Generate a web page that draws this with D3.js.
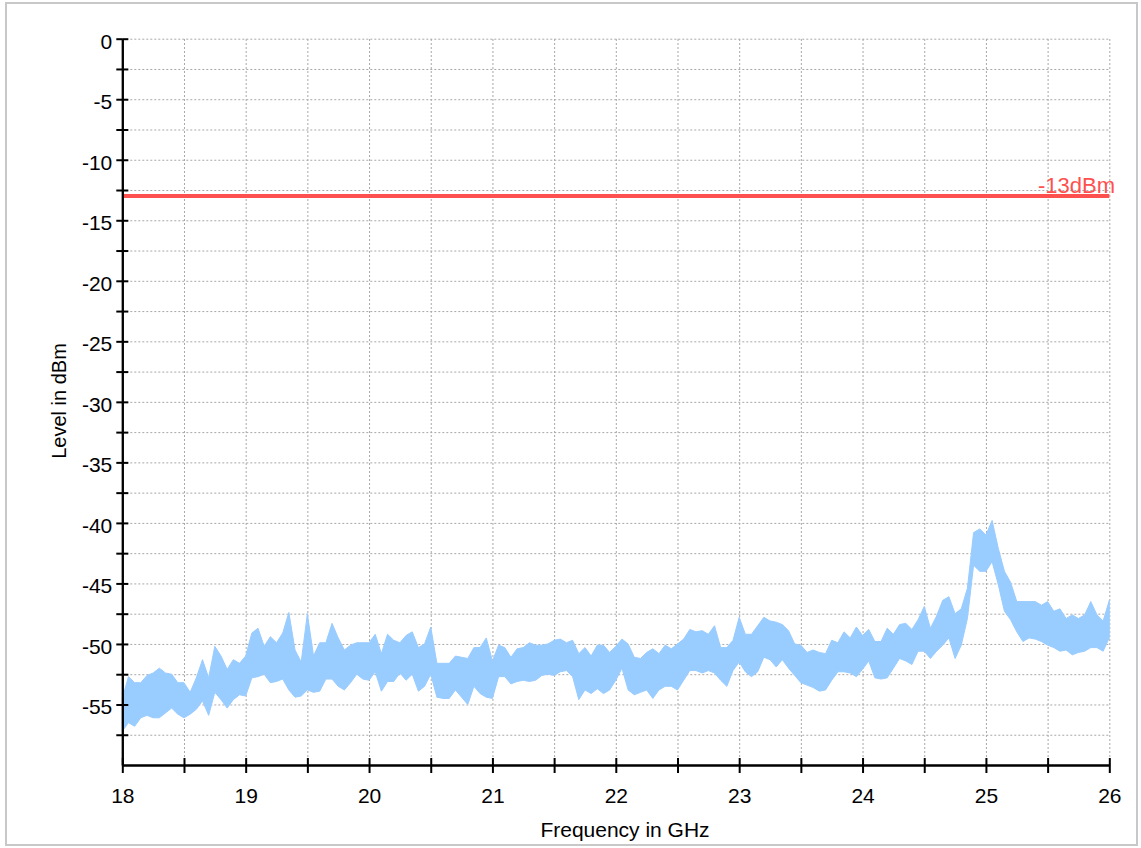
<!DOCTYPE html>
<html>
<head>
<meta charset="utf-8">
<script src="https://cdn.jsdelivr.net/npm/d3@7"></script>
<style>
    body { margin: 0; background: #fff; }
    svg { display: block; }
    text { font-family: "Liberation Sans", Arial, sans-serif; }
</style>
</head>
<body>
<svg width="1141" height="848"></svg>
<script>
"use strict";

// Sample frequencies in GHz (one every 0.05 GHz)
var freqs = [
    18.00, 18.05, 18.10, 18.15, 18.20, 18.25, 18.30, 18.35, 18.40, 18.45, 18.50, 18.55, 18.60, 18.65, 18.70, 18.75, 18.80, 18.85, 18.90, 18.95,
    19.00, 19.05, 19.10, 19.15, 19.20, 19.25, 19.30, 19.35, 19.40, 19.45, 19.50, 19.55, 19.60, 19.65, 19.70, 19.75, 19.80, 19.85, 19.90, 19.95,
    20.00, 20.05, 20.10, 20.15, 20.20, 20.25, 20.30, 20.35, 20.40, 20.45, 20.50, 20.55, 20.60, 20.65, 20.70, 20.75, 20.80, 20.85, 20.90, 20.95,
    21.00, 21.05, 21.10, 21.15, 21.20, 21.25, 21.30, 21.35, 21.40, 21.45, 21.50, 21.55, 21.60, 21.65, 21.70, 21.75, 21.80, 21.85, 21.90, 21.95,
    22.00, 22.05, 22.10, 22.15, 22.20, 22.25, 22.30, 22.35, 22.40, 22.45, 22.50, 22.55, 22.60, 22.65, 22.70, 22.75, 22.80, 22.85, 22.90, 22.95,
    23.00, 23.05, 23.10, 23.15, 23.20, 23.25, 23.30, 23.35, 23.40, 23.45, 23.50, 23.55, 23.60, 23.65, 23.70, 23.75, 23.80, 23.85, 23.90, 23.95,
    24.00, 24.05, 24.10, 24.15, 24.20, 24.25, 24.30, 24.35, 24.40, 24.45, 24.50, 24.55, 24.60, 24.65, 24.70, 24.75, 24.80, 24.85, 24.90, 24.95,
    25.00, 25.05, 25.10, 25.15, 25.20, 25.25, 25.30, 25.35, 25.40, 25.45, 25.50, 25.55, 25.60, 25.65, 25.70, 25.75, 25.80, 25.85, 25.90, 25.95,
    26.00
];

// Upper edge of the noise trace in dBm
var levelHigh = [
    -54.5, -52.7, -53.2, -53.2, -52.6, -52.4, -52.0, -52.4, -52.5, -53.2, -53.2, -54.0, -52.8, -51.3, -52.8, -50.2, -51.0, -52.1, -51.3, -51.6,
    -51.0, -49.1, -48.7, -50.2, -49.4, -49.9, -49.1, -47.4, -50.5, -51.5, -47.5, -51.0, -49.9, -49.9, -48.3, -49.5, -50.5, -50.1, -49.9, -49.9,
    -49.9, -49.2, -50.8, -49.2, -49.7, -49.9, -49.3, -49.0, -50.3, -50.0, -48.6, -51.6, -51.6, -51.6, -51.0, -51.1, -51.2, -50.3, -50.3, -49.5,
    -51.4, -50.1, -50.3, -51.1, -50.4, -50.3, -49.9, -50.1, -50.1, -50.0, -49.7, -49.6, -49.9, -49.7, -50.8, -50.3, -51.0, -50.1, -50.1, -50.7,
    -50.2, -49.6, -50.0, -51.1, -51.2, -50.7, -50.4, -50.8, -50.1, -50.4, -50.0, -49.6, -48.8, -49.0, -48.9, -49.2, -48.5, -50.3, -50.3, -49.7,
    -47.8, -49.2, -49.2, -48.5, -47.8, -48.1, -48.2, -48.4, -48.9, -50.0, -50.1, -50.7, -50.5, -50.7, -50.8, -49.7, -49.9, -49.0, -49.5, -48.6,
    -49.3, -48.8, -49.8, -49.8, -48.7, -49.2, -48.4, -48.3, -48.8, -48.0, -46.9, -48.7, -47.7, -46.4, -46.1, -47.5, -47.1, -45.4, -40.8, -40.5,
    -41.0, -39.8, -42.1, -44.0, -44.9, -46.5, -46.5, -46.5, -46.5, -46.8, -46.5, -47.3, -47.1, -47.9, -47.6, -47.9, -47.6, -46.5, -47.6, -48.1,
    -46.4
];

// Lower edge of the noise trace in dBm
var levelLow = [
    -57.2, -56.5, -56.8, -56.1, -55.9, -56.1, -56.1, -55.7, -55.3, -55.8, -56.1, -55.8, -55.4, -54.7, -55.9, -54.0, -54.6, -55.3, -54.6, -54.2,
    -54.3, -52.8, -52.7, -52.5, -53.2, -53.1, -52.9, -53.8, -54.4, -54.3, -53.8, -54.0, -53.9, -52.9, -52.9, -53.5, -53.8, -53.2, -52.5, -52.9,
    -53.0, -52.3, -53.9, -53.1, -53.1, -52.4, -53.0, -52.5, -53.9, -53.5, -52.5, -54.4, -54.5, -54.5, -53.8, -54.4, -55.0, -53.5, -54.1, -54.4,
    -54.5, -52.7, -52.7, -53.3, -53.1, -53.0, -53.1, -53.0, -52.6, -52.5, -52.6, -52.3, -52.2, -52.7, -54.6, -53.8, -54.1, -53.7, -54.1, -53.8,
    -53.0, -52.0, -53.8, -54.2, -54.0, -53.8, -54.5, -53.8, -53.5, -53.5, -53.8, -53.0, -52.2, -52.2, -52.4, -52.2, -52.4, -53.0, -53.5, -52.2,
    -51.5, -52.3, -52.7, -52.3, -51.1, -51.3, -51.9, -51.3, -52.0, -52.6, -53.2, -53.4, -53.6, -53.9, -53.8, -53.0, -52.3, -52.3, -52.4, -52.7,
    -52.1, -51.4, -52.8, -52.9, -52.8, -52.0, -51.2, -51.4, -51.7, -50.6, -50.6, -51.2, -50.6, -50.1, -49.5, -51.2, -50.1, -47.9, -43.5, -44.0,
    -44.0, -43.2, -45.1, -47.3, -48.0, -49.0, -49.8, -49.5, -49.6, -49.8, -50.1, -50.3, -50.6, -50.5, -50.9, -50.7, -50.6, -50.3, -50.3, -50.6,
    -49.5
];

// Limit line
var limitLevel = -13;
var limitLabel = "-13dBm";

// Axis ticks
var freqTicks = [18, 18.5, 19, 19.5, 20, 20.5, 21, 21.5, 22, 22.5, 23, 23.5, 24, 24.5, 25, 25.5, 26];
var levelTicks = [0, -2.5, -5, -7.5, -10, -12.5, -15, -17.5, -20, -22.5, -25, -27.5, -30, -32.5,
    -35, -37.5, -40, -42.5, -45, -47.5, -50, -52.5, -55, -57.5];

var svg = d3.select("svg");

// Initialize scales
var xScale = d3.scaleLinear()
    .domain([18, 26])
    .range([122.3, 1109.3]);

var yScale = d3.scaleLinear()
    .domain([-60, 0])
    .range([765, 38.7]);

var plotWidth = xScale(26) - xScale(18);
var plotHeight = yScale(-60) - yScale(0);

// Outer frame
svg.append("rect")
    .attr("x", 6)
    .attr("y", 3)
    .attr("width", 1131)
    .attr("height", 842)
    .attr("fill", "none")
    .attr("stroke", "#c8c8c8")
    .attr("stroke-width", 2);

// Horizontal grid
var gridY = svg.append("g")
    .attr("class", "grid")
    .attr("transform", "translate(" + xScale(18) + ",0)")
    .call(d3.axisLeft(yScale)
        .tickValues(levelTicks)
        .tickSize(-plotWidth)
        .tickFormat(""));

// Vertical grid
var gridX = svg.append("g")
    .attr("class", "grid")
    .attr("transform", "translate(0," + yScale(-60) + ")")
    .call(d3.axisBottom(xScale)
        .tickValues(freqTicks.slice(1))
        .tickSize(-plotHeight)
        .tickFormat(""));

svg.selectAll("g.grid .domain").remove();
svg.selectAll("g.grid line")
    .attr("stroke", "#a8a8a8")
    .attr("stroke-width", 1)
    .attr("stroke-dasharray", "2,2");

// Noise trace, drawn as band between lower and upper edge
var trace = freqs.map(function (f, i) {
    return { f: f, hi: levelHigh[i], lo: levelLow[i] };
});

var area = d3.area()
    .x(function (d) { return xScale(d.f); })
    .y0(function (d) { return yScale(d.lo); })
    .y1(function (d) { return yScale(d.hi); });

svg.append("path")
    .datum(trace)
    .attr("d", area)
    .attr("fill", "#99ccff")
    .attr("stroke", "#99ccff")
    .attr("stroke-width", 1);

// Limit line
svg.append("line")
    .attr("x1", xScale(18))
    .attr("x2", xScale(26))
    .attr("y1", yScale(limitLevel))
    .attr("y2", yScale(limitLevel))
    .attr("stroke", "#ff5050")
    .attr("stroke-width", 4);

svg.append("text")
    .attr("x", 1115)
    .attr("y", yScale(limitLevel) - 3)
    .style("text-anchor", "end")
    .style("font-size", "22px")
    .attr("fill", "#ff5050")
    .text(limitLabel);

// Y axis (ticks on both sides of the line)
var yAxis = svg.append("g")
    .attr("class", "axis")
    .attr("transform", "translate(" + xScale(18) + ",0)")
    .call(d3.axisLeft(yScale)
        .tickValues(levelTicks)
        .tickSize(6)
        .tickSizeOuter(0)
        .tickPadding(4)
        .tickFormat(function (d) { return d % 5 === 0 ? d : ""; }));

yAxis.selectAll("text")
    .attr("dy", "0.45em");

svg.append("g")
    .attr("class", "axis")
    .attr("transform", "translate(" + xScale(18) + ",0)")
    .call(d3.axisRight(yScale)
        .tickValues(levelTicks)
        .tickSize(6)
        .tickSizeOuter(0)
        .tickFormat(""));

// X axis (ticks on both sides of the line)
svg.append("g")
    .attr("class", "axis")
    .attr("transform", "translate(0," + yScale(-60) + ")")
    .call(d3.axisBottom(xScale)
        .tickValues(freqTicks)
        .tickSize(8)
        .tickSizeOuter(0)
        .tickPadding(15)
        .tickFormat(function (d) { return d % 1 === 0 ? d : ""; }));

svg.append("g")
    .attr("class", "axis")
    .attr("transform", "translate(0," + yScale(-60) + ")")
    .call(d3.axisTop(xScale)
        .tickValues(freqTicks)
        .tickSize(7)
        .tickSizeOuter(0)
        .tickFormat(""));

svg.selectAll("g.axis")
    .attr("font-family", null)
    .attr("font-size", null);
svg.selectAll("g.axis text")
    .style("font-size", "21px")
    .attr("fill", "#000");
svg.selectAll("g.axis line, g.axis .domain")
    .attr("stroke", "#000")
    .attr("stroke-width", 2);

// Axis titles
svg.append("text")
    .attr("transform", "translate(66, 401) rotate(-90)")
    .style("text-anchor", "middle")
    .style("font-size", "20px")
    .text("Level in dBm");

svg.append("text")
    .attr("x", 625)
    .attr("y", 837)
    .style("text-anchor", "middle")
    .style("font-size", "21px")
    .text("Frequency in GHz");
</script>
</body>
</html>
